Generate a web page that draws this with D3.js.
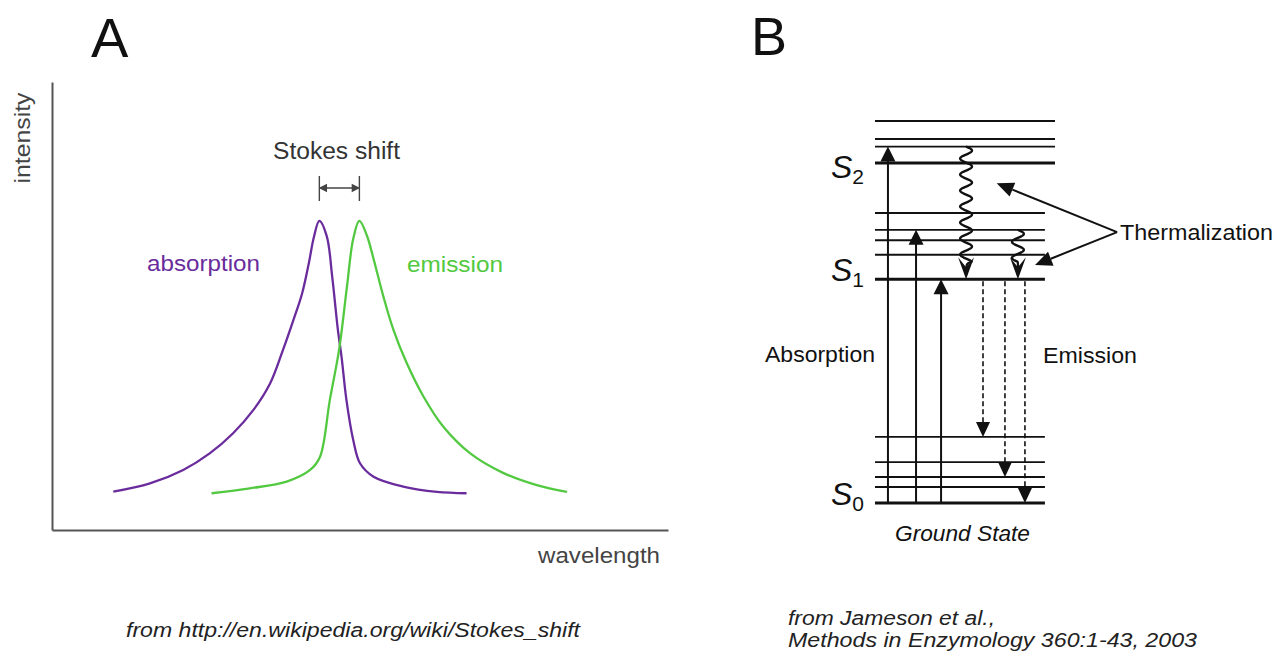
<!doctype html>
<html>
<head>
<script src="https://cdn.jsdelivr.net/npm/d3@7"></script>
<style>
body { margin: 0; background: #fff; }
svg { display: block; }
text { font-family: Arial, "Liberation Sans", sans-serif; }
</style>
</head>
<body>
<svg width="1275" height="652"></svg>
<script>
// ---- panel A: spectra, arbitrary units ----
var absWavelength = [9.95, 15.9, 21.3, 25.6, 29.4, 32.7, 35.4, 37.5, 39.2, 40.6, 41.7, 42.5, 43.4, 44.6, 45.5, 46.4, 47.0, 47.8, 48.9, 50.0, 52.2, 57.0, 62.5, 67.3];
var absIntensity  = [8.55, 10.4, 13.4, 17.1, 21.6, 26.8, 32.7, 40.2, 46.9, 52.8, 59.6, 65.3, 69.0, 65.6, 56.4, 44.8, 38.7, 29.0, 20.1, 14.9, 11.9, 9.7, 8.5, 8.2];
var emWavelength  = [25.9, 32.1, 38.1, 41.9, 43.5, 45.1, 46.6, 47.9, 48.9, 49.9, 51.1, 52.3, 53.8, 55.4, 57.6, 60.3, 63.5, 67.9, 73.3, 78.7, 83.6];
var emIntensity   = [8.2, 9.3, 10.8, 13.4, 16.3, 29.0, 40.2, 54.5, 65.0, 69.0, 65.8, 60.0, 52.1, 44.8, 37.2, 29.8, 23.1, 17.1, 12.7, 10.0, 8.5];

// ---- panel B: energy levels, arbitrary units (S0 = 0) ----
var s0Levels = [0, 4.2, 6.8, 10.7, 17.3];
var s1Levels = [58.6, 65.0, 68.8, 71.5, 75.9];
var s2Levels = [89.0, 93.3, 95.3, 100];
var absorptionTo  = [93.3, 71.5, 58.6];
var absorptionCol = [7.2, 22.8, 36.7];
var relaxFrom = [93.3, 71.5];
var relaxCol  = [50.6, 79.4];
var emissionTo  = [17.3, 6.8, 0];
var emissionCol = [60, 72.2, 83.3];

var purple = "#6a2c9c", green = "#52c940";
var svg = d3.select("svg");

// ================= A =================
var x = d3.scaleLinear().domain([0, 100]).range([52, 668]);
var y = d3.scaleLinear().domain([0, 100]).range([530, 82]);

svg.append("text").attr("x", 91).attr("y", 57)
  .style("font-size", "56px").style("fill", "#111").text("A");

svg.append("g").attr("transform", "translate(0,530)")
  .call(d3.axisBottom(x).ticks(0).tickSizeOuter(0));
svg.append("g").attr("transform", "translate(52,0)")
  .call(d3.axisLeft(y).ticks(0).tickSizeOuter(0));
svg.selectAll(".domain").style("stroke", "#555").style("stroke-width", 2);

var line = d3.line().x(d => x(d[0])).y(d => y(d[1])).curve(d3.curveCatmullRom.alpha(0.5));
var absData = d3.zip(absWavelength, absIntensity);
var emData = d3.zip(emWavelength, emIntensity);
svg.append("path").attr("d", line(absData))
  .style("fill", "none").style("stroke", purple).style("stroke-width", 2.3);
svg.append("path").attr("d", line(emData))
  .style("fill", "none").style("stroke", green).style("stroke-width", 2.3);

svg.append("text").attr("transform", "translate(30,138) rotate(-90)")
  .attr("text-anchor", "middle").attr("textLength", 91).attr("lengthAdjust", "spacingAndGlyphs")
  .style("font-size", "22px").style("fill", "#444").text("intensity");
svg.append("text").attr("x", 538).attr("y", 563)
  .attr("textLength", 122).attr("lengthAdjust", "spacingAndGlyphs")
  .style("font-size", "22px").style("fill", "#444").text("wavelength");
svg.append("text").attr("x", 147).attr("y", 271)
  .attr("textLength", 113).attr("lengthAdjust", "spacingAndGlyphs")
  .style("font-size", "22px").style("fill", purple).text("absorption");
svg.append("text").attr("x", 407).attr("y", 272)
  .attr("textLength", 96).attr("lengthAdjust", "spacingAndGlyphs")
  .style("font-size", "22px").style("fill", green).text("emission");
svg.append("text").attr("x", 273).attr("y", 159)
  .attr("textLength", 127).attr("lengthAdjust", "spacingAndGlyphs")
  .style("font-size", "23px").style("fill", "#333").text("Stokes shift");

// stokes shift bracket between the two maxima
var pA = x(absWavelength[d3.maxIndex(absIntensity)]);
var pE = x(emWavelength[d3.maxIndex(emIntensity)]);
var br = svg.append("g").style("stroke", "#444").style("stroke-width", 1.4).style("fill", "#444");
[pA, pE].forEach(px => br.append("line").attr("x1", px).attr("x2", px).attr("y1", 176).attr("y2", 201));
br.append("line").attr("x1", pA + 1).attr("x2", pE - 1).attr("y1", 188).attr("y2", 188);
br.append("path").attr("d", `M${pA + 1},188 l6,-3 v6 z M${pE - 1},188 l-6,-3 v6 z`);

svg.append("text").attr("x", 126).attr("y", 637)
  .attr("textLength", 454).attr("lengthAdjust", "spacingAndGlyphs")
  .style("font-size", "20px").style("font-style", "italic").style("fill", "#222")
  .text("from http://en.wikipedia.org/wiki/Stokes_shift");

// ================= B =================
var bx = d3.scaleLinear().domain([0, 100]).range([875, 1055]);
var by = d3.scaleLinear().domain([0, 100]).range([503, 121]);

svg.append("text").attr("x", 751).attr("y", 55)
  .style("font-size", "54px").style("fill", "#111").text("B");

var levels = [
  {vals: s0Levels, end: 94.4},
  {vals: s1Levels, end: 94.4},
  {vals: s2Levels, end: 100}
];
levels.forEach(g => {
  svg.append("g").selectAll("line").data(g.vals).enter().append("line")
    .attr("x1", bx(0)).attr("x2", bx(g.end))
    .attr("y1", d => by(d)).attr("y2", d => by(d))
    .style("stroke", "#111")
    .style("stroke-width", (d, i) => i == 0 ? 3 : 1.9);
});

function triDown(cx, tip, h, w) { return `M${cx},${tip} L${cx - w},${tip - h} L${cx + w},${tip - h} Z`; }
function triUp(cx, tip, h, w) { return `M${cx},${tip} L${cx - w},${tip + h} L${cx + w},${tip + h} Z`; }

// absorption arrows
absorptionTo.forEach((e, i) => {
  var cx = bx(absorptionCol[i]);
  svg.append("line").attr("x1", cx).attr("x2", cx).attr("y1", by(0)).attr("y2", by(e) + 10)
    .style("stroke", "#111").style("stroke-width", 2);
  svg.append("path").attr("d", triUp(cx, by(e), 15, 7.5)).style("fill", "#111");
});

// thermalization (wavy) arrows
relaxFrom.forEach((e, i) => {
  var cx = bx(relaxCol[i]);
  var y0 = by(e), tip = by(s1Levels[0]), y1 = tip - 17;
  var pts = d3.range(y0, y1, 0.5).map(yy => [cx + 6 * Math.sin(2 * Math.PI * (yy - y0) / 16), yy]);
  pts.push([cx, y1]);
  pts.push([cx, tip - 4]);
  svg.append("path").attr("d", d3.line().curve(d3.curveBasis)(pts))
    .style("fill", "none").style("stroke", "#111").style("stroke-width", 2.3);
  svg.append("path").attr("d", `M${cx},${tip} L${cx - 8},${tip - 22} L${cx},${tip - 12} L${cx + 8},${tip - 22} Z`)
    .style("fill", "#111");
});

// emission (dashed) arrows
emissionTo.forEach((e, i) => {
  var cx = bx(emissionCol[i]);
  svg.append("line").attr("x1", cx).attr("x2", cx).attr("y1", by(s1Levels[0]) + 2).attr("y2", by(e) - 12)
    .style("stroke", "#111").style("stroke-width", 1.6).style("stroke-dasharray", "5,3");
  svg.append("path").attr("d", triDown(cx, by(e), 15, 7)).style("fill", "#111");
});

// thermalization pointers
var fromPt = [bx(134.5), by(70.9)];
[[bx(67.6), by(83.7)], [bx(88.9), by(62.3)]].forEach(t => {
  var dx = t[0] - fromPt[0], dy = t[1] - fromPt[1], L = Math.hypot(dx, dy);
  var ux = dx / L, uy = dy / L, h = 17, w = 7.5;
  var bxp = t[0] - ux * h, byp = t[1] - uy * h;
  svg.append("line").attr("x1", fromPt[0]).attr("y1", fromPt[1]).attr("x2", bxp).attr("y2", byp)
    .style("stroke", "#111").style("stroke-width", 2);
  svg.append("path").attr("d", `M${t[0]},${t[1]} L${bxp - uy * w},${byp + ux * w} L${bxp + uy * w},${byp - ux * w} Z`)
    .style("fill", "#111");
});

// state labels
[["2", s2Levels[0], 15], ["1", s1Levels[0], 2], ["0", s0Levels[0], 2]].forEach(s => {
  var t = svg.append("text").attr("x", 831).attr("y", by(s[1]) + s[2]).style("fill", "#111");
  t.append("tspan").style("font-size", "32px").style("font-style", "italic").text("S");
  t.append("tspan").attr("dy", 6).style("font-size", "21px").text(s[0]);
});

svg.append("text").attr("x", 765).attr("y", 362)
  .attr("textLength", 110).attr("lengthAdjust", "spacingAndGlyphs")
  .style("font-size", "22px").style("fill", "#111").text("Absorption");
svg.append("text").attr("x", 1043).attr("y", 363)
  .attr("textLength", 94).attr("lengthAdjust", "spacingAndGlyphs")
  .style("font-size", "22px").style("fill", "#111").text("Emission");
svg.append("text").attr("x", 1120).attr("y", 240)
  .attr("textLength", 153).attr("lengthAdjust", "spacingAndGlyphs")
  .style("font-size", "22px").style("fill", "#111").text("Thermalization");
svg.append("text").attr("x", 895).attr("y", 541)
  .attr("textLength", 135).attr("lengthAdjust", "spacingAndGlyphs")
  .style("font-size", "22px").style("font-style", "italic").style("fill", "#111").text("Ground State");

svg.append("text").attr("x", 788).attr("y", 625)
  .attr("textLength", 207).attr("lengthAdjust", "spacingAndGlyphs")
  .style("font-size", "20px").style("font-style", "italic").style("fill", "#222").text("from Jameson et al.,");
svg.append("text").attr("x", 788).attr("y", 647)
  .attr("textLength", 409).attr("lengthAdjust", "spacingAndGlyphs")
  .style("font-size", "20px").style("font-style", "italic").style("fill", "#222").text("Methods in Enzymology 360:1-43, 2003");
</script>
</body>
</html>
